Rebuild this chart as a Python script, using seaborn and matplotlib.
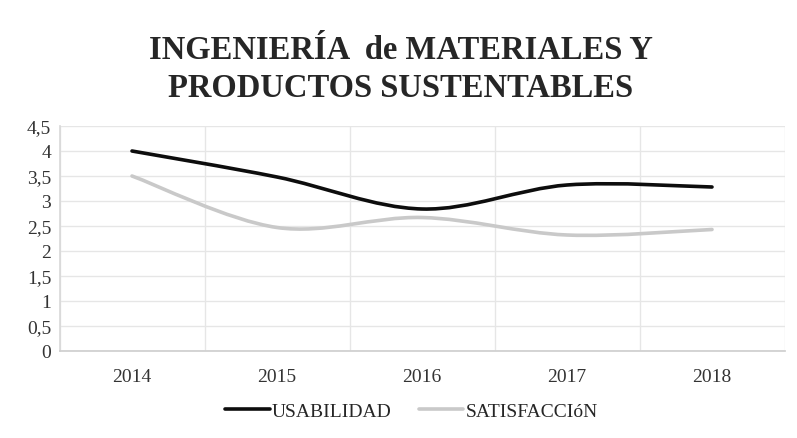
import numpy as np
import pandas as pd
import matplotlib
matplotlib.use("Agg")
import matplotlib.pyplot as plt
import seaborn as sns
from matplotlib.path import Path
from matplotlib.patches import PathPatch
from matplotlib.lines import Line2D

years = ["2014", "2015", "2016", "2017", "2018"]
usabilidad = [4.0, 3.48, 2.84, 3.32, 3.28]
satisfaccion = [3.5, 2.47, 2.67, 2.32, 2.43]
series_names = ["USABILIDAD", "SATISFACCIóN"]
colors = ["#0d0d0d", "#c9c9c9"]
yticks = [0, 0.5, 1, 1.5, 2, 2.5, 3, 3.5, 4, 4.5]
ytick_labels = ["0", "0,5", "1", "1,5", "2", "2,5", "3", "3,5", "4", "4,5"]
title_lines = ["INGENIERÍA  de MATERIALES Y", "PRODUCTOS SUSTENTABLES"]

sns.set_theme(style="white")
plt.rcParams["font.family"] = ["Liberation Serif", "DejaVu Serif"]

df = pd.DataFrame({
    "year": years * 2,
    "x": list(range(len(years))) * 2,
    "value": usabilidad + satisfaccion,
    "serie": [series_names[0]] * len(years) + [series_names[1]] * len(years),
})

fig = plt.figure(figsize=(7.97, 4.39), dpi=100)
ax = fig.add_axes([59.5 / 797, (439 - 352) / 439, (784.5 - 59.5) / 797, (352 - 127) / 439])

sns.lineplot(data=df, x="x", y="value", hue="serie", palette=colors, ax=ax,
             legend=False, linewidth=2.6)


def smooth_path(xs, ys):
    pts = np.column_stack([xs, ys]).astype(float)
    n = len(pts)
    verts = [tuple(pts[0])]
    codes = [Path.MOVETO]
    for i in range(n - 1):
        p0 = pts[i - 1] if i > 0 else pts[i]
        p1 = pts[i]
        p2 = pts[i + 1]
        p3 = pts[i + 2] if i + 2 < n else pts[i + 1]
        c1 = p1 + (p2 - p0) / 6.0
        c2 = p2 - (p3 - p1) / 6.0
        verts += [tuple(c1), tuple(c2), tuple(p2)]
        codes += [Path.CURVE4] * 3
    return Path(verts, codes)


for line in list(ax.lines):
    xd, yd = line.get_xdata(), line.get_ydata()
    col = line.get_color()
    line.set_visible(False)
    patch = PathPatch(smooth_path(xd, yd), facecolor="none", edgecolor=col,
                      linewidth=2.6, capstyle="round", joinstyle="round", zorder=3)
    ax.add_patch(patch)

ax.set_xlim(-0.5, len(years) - 0.5)
ax.set_ylim(0, 4.5)
ax.set_xticks(range(len(years)))
ax.set_xticklabels(years)
ax.set_xticks(np.arange(-0.5, len(years), 1.0), minor=True)
ax.set_yticks(yticks)
ax.set_yticklabels(ytick_labels)
ax.tick_params(axis="both", which="both", length=0, labelsize=14, colors="#333333")
ax.tick_params(axis="x", pad=12)
ax.tick_params(axis="y", pad=6)
ax.grid(axis="y", which="major", color="#e6e6e6", linewidth=1)
ax.grid(axis="x", which="minor", color="#e6e6e6", linewidth=1)
ax.set_xlabel("")
ax.set_ylabel("")
for s in ["top", "right"]:
    ax.spines[s].set_visible(False)
ax.spines["left"].set_color("#d9d9d9")
ax.spines["bottom"].set_color("#cfcfcf")
ax.set_axisbelow(True)

fig.text(0.503, 1 - 59 / 439, title_lines[0], ha="center", va="baseline",
         fontsize=23.5, fontweight="bold", color="#262626")
fig.text(0.503, 1 - 97 / 439, title_lines[1], ha="center", va="baseline",
         fontsize=23.5, fontweight="bold", color="#262626")

handles = [Line2D([0], [0], color=c, linewidth=2.6) for c in colors]
fig.legend(handles, series_names, loc="center", bbox_to_anchor=(0.516, 0.062),
           ncol=2, frameon=False, fontsize=14, handlelength=2.3,
           handletextpad=0.1, columnspacing=1.4, labelcolor="#262626")

fig.savefig("out.png", dpi=100)
